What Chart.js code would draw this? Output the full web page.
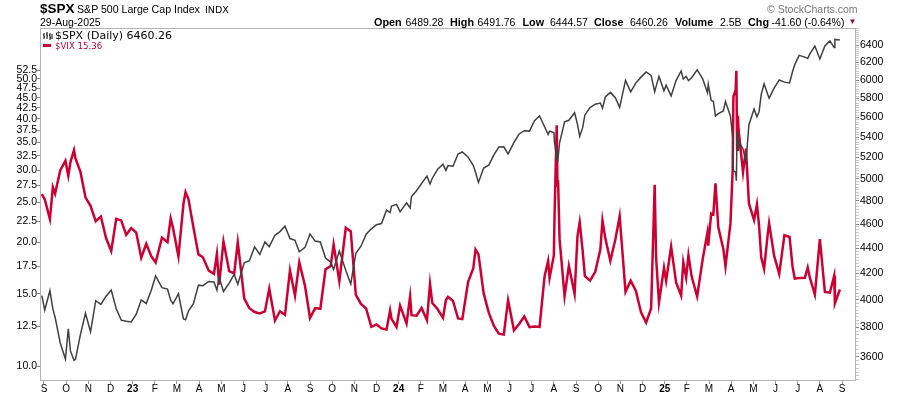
<!DOCTYPE html>
<html><head><meta charset="utf-8">
<script src="https://cdn.jsdelivr.net/npm/chart.js@4.4.1/dist/chart.umd.min.js"></script>
<style>
html,body{margin:0;padding:0;background:#fff;}
#wrap{position:relative;width:900px;height:396px;overflow:hidden;background:#fff;}
#c{position:absolute;left:0;top:0;}
.t{position:absolute;white-space:nowrap;line-height:1;font-family:"Liberation Sans",Arial,sans-serif;color:#000;}
.b{font-weight:bold;}
.v{font-family:"DejaVu Sans",Verdana,sans-serif;}
</style></head>
<body><div id="wrap"><canvas id="c" width="900" height="396"></canvas>
<div class="t b" style="left:40px;top:2px;font-size:13.5px">$SPX</div>
<div class="t" style="left:77px;top:3.5px;font-size:10.6px">S&amp;P 500 Large Cap Index</div>
<div class="t v" style="left:205px;top:4.5px;font-size:9.5px">INDX</div>
<div class="t" style="left:40px;top:17px;font-size:10.5px">29-Aug-2025</div>
<div class="t" style="left:767px;top:4px;font-size:10.5px;color:#777">© StockCharts.com</div>
<div class="t b" style="left:374px;top:16.5px;font-size:10.8px">Open</div>
<div class="t" style="left:405.5px;top:16.5px;font-size:10.5px">6489.28</div>
<div class="t b" style="left:450px;top:16.5px;font-size:10.8px">High</div>
<div class="t" style="left:477.5px;top:16.5px;font-size:10.5px">6491.76</div>
<div class="t b" style="left:522.5px;top:16.5px;font-size:10.8px">Low</div>
<div class="t" style="left:550px;top:16.5px;font-size:10.5px">6444.57</div>
<div class="t b" style="left:594px;top:16.5px;font-size:10.8px">Close</div>
<div class="t" style="left:630px;top:16.5px;font-size:10.5px">6460.26</div>
<div class="t b" style="left:675px;top:16.5px;font-size:10.8px">Volume</div>
<div class="t" style="left:720px;top:16.5px;font-size:10.5px">2.5B</div>
<div class="t b" style="left:748px;top:16.5px;font-size:10.8px">Chg</div>
<div class="t" style="left:771.5px;top:16.5px;font-size:10.5px">-41.60 (-0.64%)</div>
<div class="t" style="left:848.5px;top:18px;font-size:8px;color:#8a0a2c">▼</div>
<svg style="position:absolute;left:43px;top:32px" width="10" height="8" viewBox="0 0 10 8">
<path d="M1 1v6M0 3h1M1 5h1M4 0v7M3 2h1M4 4h1M7 1v7M6 3h1M7 6h1M9 2v5" stroke="#000" stroke-width="1" fill="none"/></svg>
<div class="t v" style="left:55px;top:30px;font-size:11px">$SPX (Daily) 6460.26</div>
<div style="position:absolute;left:43px;top:44px;width:8px;height:2.5px;background:#cc0033"></div>
<div class="t v" style="left:55px;top:41.5px;font-size:8.6px;color:#cc0033">$VIX 15.36</div>
</div>
<script>
const dates = [
"2022-08-29","2022-09-02","2022-09-09","2022-09-13","2022-09-16","2022-09-23","2022-09-30","2022-10-04","2022-10-07","2022-10-12","2022-10-14","2022-10-21","2022-10-28","2022-11-04","2022-11-11","2022-11-18","2022-11-25","2022-12-02","2022-12-09","2022-12-16","2022-12-23","2022-12-30",
"2023-01-06","2023-01-13","2023-01-20","2023-01-27","2023-02-02","2023-02-10","2023-02-17","2023-02-21","2023-02-24","2023-03-03","2023-03-10","2023-03-13","2023-03-17","2023-03-24","2023-03-31","2023-04-06","2023-04-14","2023-04-21","2023-04-25","2023-04-28","2023-05-04","2023-05-12","2023-05-19","2023-05-24","2023-06-02","2023-06-09","2023-06-16","2023-06-23","2023-06-30","2023-07-06","2023-07-14","2023-07-21","2023-07-28","2023-08-04","2023-08-11","2023-08-17","2023-08-25","2023-09-01","2023-09-08","2023-09-15","2023-09-22","2023-09-29","2023-10-03","2023-10-11","2023-10-20","2023-10-27","2023-11-03","2023-11-10","2023-11-17","2023-11-24","2023-12-01","2023-12-08","2023-12-15","2023-12-20","2023-12-22","2023-12-29",
"2024-01-03","2024-01-12","2024-01-17","2024-01-19","2024-01-26","2024-02-02","2024-02-09","2024-02-13","2024-02-16","2024-02-23","2024-03-01","2024-03-05","2024-03-08","2024-03-15","2024-03-22","2024-03-28","2024-04-05","2024-04-12","2024-04-15","2024-04-19","2024-04-26","2024-05-03","2024-05-10","2024-05-17","2024-05-24","2024-05-30","2024-06-07","2024-06-14","2024-06-21","2024-06-28","2024-07-05","2024-07-12","2024-07-19","2024-07-24","2024-07-26","2024-08-01","2024-08-02","2024-08-05","2024-08-06","2024-08-07","2024-08-09","2024-08-16","2024-08-22","2024-08-30","2024-09-03","2024-09-06","2024-09-10","2024-09-13","2024-09-20","2024-09-27","2024-10-04","2024-10-07","2024-10-11","2024-10-18","2024-10-25","2024-10-31","2024-11-08","2024-11-15","2024-11-22","2024-11-29","2024-12-06","2024-12-13","2024-12-18","2024-12-20","2024-12-24","2024-12-31",
"2025-01-03","2025-01-10","2025-01-17","2025-01-24","2025-01-27","2025-01-31","2025-02-03","2025-02-07","2025-02-14","2025-02-21","2025-02-27","2025-02-28","2025-03-04","2025-03-07","2025-03-10","2025-03-14","2025-03-21","2025-03-24","2025-03-31","2025-04-03","2025-04-04","2025-04-07","2025-04-08","2025-04-09","2025-04-10","2025-04-11","2025-04-17","2025-04-21","2025-04-25","2025-05-02","2025-05-06","2025-05-09","2025-05-12","2025-05-16","2025-05-21","2025-05-23","2025-05-30","2025-06-06","2025-06-13","2025-06-20","2025-06-24","2025-06-27","2025-07-03","2025-07-11","2025-07-15","2025-07-18","2025-07-25","2025-08-01","2025-08-08","2025-08-15","2025-08-21","2025-08-22","2025-08-29"
];
const spxClose = [
4030.61,3924.26,4067.36,3932.69,3873.33,3693.23,3585.62,3790.93,3639.66,3577.03,3583.07,3752.75,3901.06,3770.55,3992.93,3965.34,4026.12,4071.70,3934.38,3852.36,3844.82,3839.50,
3895.08,3999.09,3972.61,4070.56,4179.76,4090.46,4079.09,3997.34,3970.04,4045.64,3861.59,3855.76,3916.64,3970.99,4109.31,4105.02,4137.64,4133.52,4071.63,4169.48,4061.22,4124.08,4191.98,4115.24,4282.37,4298.86,4409.59,4348.33,4450.38,4411.59,4505.42,4536.34,4582.23,4478.03,4464.05,4370.36,4405.71,4515.77,4457.49,4450.32,4320.06,4288.05,4229.45,4376.95,4224.16,4117.37,4358.34,4415.24,4514.02,4559.34,4594.63,4604.37,4719.19,4698.35,4754.63,4769.83,
4704.81,4783.83,4739.21,4839.81,4890.97,4958.61,5026.61,4953.17,5005.57,5088.80,5137.08,5078.65,5123.69,5117.09,5234.18,5254.35,5204.34,5123.41,5061.82,4967.23,5099.96,5127.79,5222.68,5303.27,5304.72,5235.48,5346.99,5431.60,5464.62,5460.48,5567.19,5615.35,5505.00,5427.13,5459.10,5446.68,5346.56,5186.33,5240.03,5199.50,5344.16,5554.25,5570.64,5648.40,5528.93,5408.42,5495.52,5626.02,5702.55,5738.17,5751.07,5695.94,5815.03,5864.67,5808.12,5705.45,5995.54,5870.62,5969.34,6032.38,6090.27,6051.09,5872.16,5930.85,6040.04,5881.63,
5942.47,5827.04,5996.66,6101.24,6012.28,6040.53,5994.57,6025.99,6114.63,6013.13,5861.57,5954.50,5778.15,5770.20,5614.56,5638.94,5667.56,5767.57,5611.85,5396.52,5074.08,5062.25,4982.77,5456.90,5268.05,5363.36,5282.70,5158.20,5525.21,5686.67,5606.91,5659.91,5844.19,5958.38,5844.61,5802.82,5911.69,6000.36,5976.97,5967.84,6092.18,6173.07,6279.35,6259.75,6243.76,6296.79,6388.64,6238.01,6389.45,6449.80,6370.17,6466.91,6460.26
];
const vixClose = [
26.21,25.47,22.79,27.27,26.30,29.92,31.62,29.07,31.36,33.57,32.02,29.69,25.75,24.55,22.52,23.12,20.50,19.06,22.83,22.62,20.87,21.67,
21.13,18.35,19.85,18.51,17.87,20.53,20.02,22.87,21.67,18.49,24.80,26.52,25.51,21.74,18.70,18.40,17.07,16.77,18.76,15.78,20.09,17.03,16.81,20.03,14.60,13.83,13.54,13.44,13.59,15.44,12.91,13.60,13.33,17.10,14.84,17.89,15.68,13.09,13.84,13.79,17.20,17.52,19.78,16.09,21.71,21.27,14.91,14.17,13.80,12.46,12.63,12.35,12.28,13.67,13.03,12.45,
14.04,12.70,14.79,13.30,13.26,13.85,12.93,15.85,14.24,13.75,13.11,14.46,14.74,14.41,13.06,13.01,16.03,17.31,19.23,18.71,15.03,13.49,12.55,11.99,11.93,14.47,12.22,12.66,13.20,12.44,12.48,12.46,16.52,18.04,16.39,18.59,23.39,38.57,27.71,27.85,20.37,14.80,17.55,15.00,20.72,22.38,19.08,16.56,16.15,16.96,19.21,22.64,20.46,18.03,20.33,23.16,15.16,16.14,15.24,13.51,12.77,13.81,27.62,18.36,14.27,17.35,
16.13,19.54,15.97,14.85,17.90,16.43,18.62,16.54,14.77,18.21,21.13,19.63,23.51,23.37,27.86,21.77,19.28,17.48,22.28,30.02,45.31,46.98,52.33,33.62,40.72,37.56,29.65,33.82,24.84,22.68,24.76,21.90,18.39,17.24,20.87,22.29,18.57,16.77,20.82,20.62,17.48,16.32,16.38,16.40,17.38,16.41,14.93,20.38,15.15,15.09,16.60,14.22,15.36
];
const monthLabels = ["S","O","N","D","23","F","M","A","M","J","J","A","S","O","N","D","24","F","M","A","M","J","J","A","S","O","N","D","25","F","M","A","M","J","J","A","S"];
const vixTicks = [10,12.5,15,17.5,20,22.5,25,27.5,30,32.5,35,37.5,40,42.5,45,47.5,50,52.5];
const spxTicks = [3600,3800,4000,4200,4400,4600,4800,5000,5200,5400,5600,5800,6000,6200,6400];
const spxMinorStep = 25;

function monthPos(s){
  const p = s.split('-').map(Number);
  const dim = new Date(p[0], p[1], 0).getDate();
  return (p[0]-2022)*12 + (p[1]-9) + (p[2]-1)/dim;
}
const spxPts = spxClose.map((v,i)=>({x:monthPos(dates[i]), y:v}));
const vixPts = vixClose.map((v,i)=>({x:monthPos(dates[i]), y:v}));

const spxAllTicks = [];
for (let v = 3450; v <= 6600; v += spxMinorStep) spxAllTicks.push(v);

const boxPlugin = {
  id:'box',
  afterDraw(ch){
    const a = ch.chartArea, ctx = ch.ctx;
    ctx.save();
    ctx.strokeStyle = '#b4b4b4';
    ctx.lineWidth = 1;
    ctx.strokeRect(a.left+0.5, a.top+0.5, a.right-a.left-1, a.bottom-a.top-1);
    ctx.restore();
  }
};

new Chart(document.getElementById('c'), {
  type:'line',
  data:{datasets:[
    {label:'$SPX', data:spxPts, yAxisID:'spx', borderColor:'#404040', borderWidth:1.5, pointRadius:0, tension:0},
    {label:'$VIX', data:vixPts, yAxisID:'vix', borderColor:'#cc0033', borderWidth:2.5, pointRadius:0, tension:0}
  ]},
  options:{
    responsive:false, animation:false, devicePixelRatio:1,
    layout:{padding:{top:28,left:0,right:0,bottom:0}},
    plugins:{legend:{display:false}, tooltip:{enabled:false}},
    scales:{
      x:{type:'linear', position:'bottom', min:-0.18, max:36.63,
        afterBuildTicks:s=>{s.ticks = monthLabels.map((_,i)=>({value:i}));},
        afterFit:s=>{s.height=15;},
        ticks:{autoSkip:false, maxRotation:0, minRotation:0, padding:-1, color:'#000',
          font:c=>({family:'Liberation Sans', size:10, weight:(c.tick && /^\d/.test(monthLabels[c.tick.value]))?'bold':'normal'}),
          callback:(v)=>monthLabels[Math.round(v)]},
        grid:{drawOnChartArea:false, tickLength:3, color:'#999'},
        border:{display:false}},
      vix:{type:'logarithmic', position:'left', min:9.2, max:66.5,
        afterBuildTicks:s=>{s.ticks = vixTicks.map(v=>({value:v}));},
        afterFit:s=>{s.width=40;},
        ticks:{padding:0, color:'#000', font:{family:'Liberation Sans', size:10.5}, callback:v=>Number(v).toFixed(1)},
        grid:{drawOnChartArea:false, tickLength:3, color:'#888'},
        border:{display:false}},
      spx:{type:'logarithmic', position:'right', min:3443, max:6605,
        afterBuildTicks:s=>{s.ticks = spxAllTicks.map(v=>({value:v}));},
        afterFit:s=>{s.width=44;},
        ticks:{autoSkip:false, padding:1, color:'#000', font:{family:'Liberation Sans', size:10.5},
          callback:v=> spxTicks.includes(v) ? String(v) : ''},
        grid:{drawOnChartArea:false, tickLength:3,
          tickColor:c=> (c.tick && spxTicks.includes(c.tick.value)) ? '#888' : '#c8c8c8'},
        border:{display:false}}
    }
  },
  plugins:[boxPlugin]
});
</script>
</body></html>
